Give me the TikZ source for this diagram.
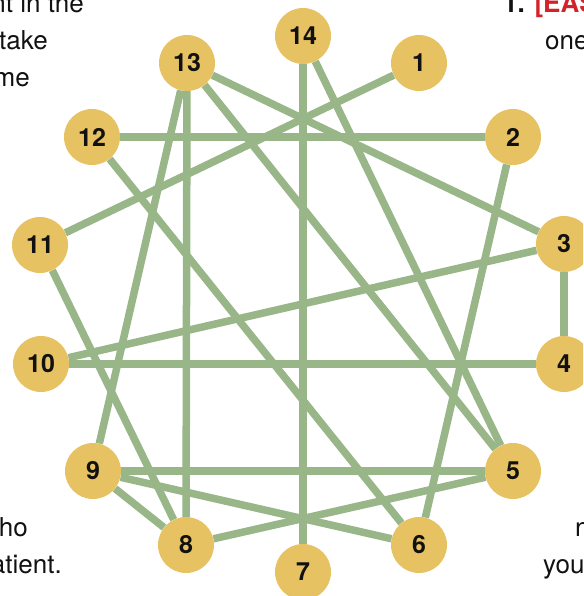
\documentclass[tikz,border=0pt]{standalone}
\usepackage{fontspec}
\setmainfont{TeX Gyre Heros}
\definecolor{grink}{HTML}{111111}
\definecolor{grgold}{HTML}{E7C262}
\definecolor{grgreen}{HTML}{98B687}
\definecolor{grred}{HTML}{D2232A}
\tikzset{
  grvertex/.style={
    circle,
    fill=grgold,
    draw=none,
    minimum size=56pt,
    inner sep=0pt,
    font=\fontsize{25}{25}\selectfont\bfseries,
    text=grink
  },
  gredge/.style={
    line width=7.5pt,
    color=grgreen
  },
  grpage/.style={
    font=\fontsize{26}{37}\selectfont,
    text=grink,
    inner sep=0pt
  }
}

\begin{document}
\begin{tikzpicture}[x=1pt,y=1pt]
  \useasboundingbox (0,0) rectangle (583,-596);
  \clip (0,0) rectangle (583,-596);

  % page text cut by the figure
  \node[grpage, anchor=base east] (lefta) at (84,-13) {nt in the};
  \node[grpage, anchor=base east] (leftb) at (48,-50) {take};
  \node[grpage, anchor=base east] (leftc) at (30,-87) {me};
  \node[grpage, anchor=base east] (leftd) at (28,-536) {ho};
  \node[grpage, anchor=base east] (lefte) at (62,-573) {atient.};
  \node[grpage, anchor=base west] (righta) at (503,-13) {\textbf{1.} \textcolor{grred}{\textbf{[EAS}}};
  \node[grpage, anchor=base west] (rightb) at (545,-50) {one};
  \node[grpage, anchor=base west] (rightc) at (575,-536) {n};
  \node[grpage, anchor=base west] (rightd) at (543,-573) {you};

  % vertices
  \node[grvertex] (n1) at (419,-63) {1};
  \node[grvertex] (n2) at (513,-137) {2};
  \node[grvertex] (n3) at (564,-244) {3};
  \node[grvertex] (n4) at (564,-364) {4};
  \node[grvertex] (n5) at (513,-471) {5};
  \node[grvertex] (n6) at (419,-545) {6};
  \node[grvertex] (n7) at (303,-572) {7};
  \node[grvertex] (n8) at (186,-545) {8};
  \node[grvertex] (n9) at (93,-471) {9};
  \node[grvertex] (n10) at (41,-364) {10};
  \node[grvertex] (n11) at (40,-245) {11};
  \node[grvertex] (n12) at (92,-137) {12};
  \node[grvertex] (n13) at (187,-63) {13};
  \node[grvertex] (n14) at (303,-36) {14};

  % edges
  \draw[gredge] (n1) -- (n11);
  \draw[gredge] (n2) -- (n12);
  \draw[gredge] (n2) -- (n6);
  \draw[gredge] (n3) -- (n4);
  \draw[gredge] (n3) -- (n10);
  \draw[gredge] (n3) -- (n13);
  \draw[gredge] (n4) -- (n10);
  \draw[gredge] (n5) -- (n9);
  \draw[gredge] (n5) -- (n8);
  \draw[gredge] (n5) -- (n13);
  \draw[gredge] (n5) -- (n14);
  \draw[gredge] (n6) -- (n12);
  \draw[gredge] (n6) -- (n9);
  \draw[gredge] (n7) -- (n14);
  \draw[gredge] (n8) -- (n9);
  \draw[gredge] (n8) -- (n11);
  \draw[gredge] (n8) -- (n13);
  \draw[gredge] (n9) -- (n13);
\end{tikzpicture}
\end{document}
